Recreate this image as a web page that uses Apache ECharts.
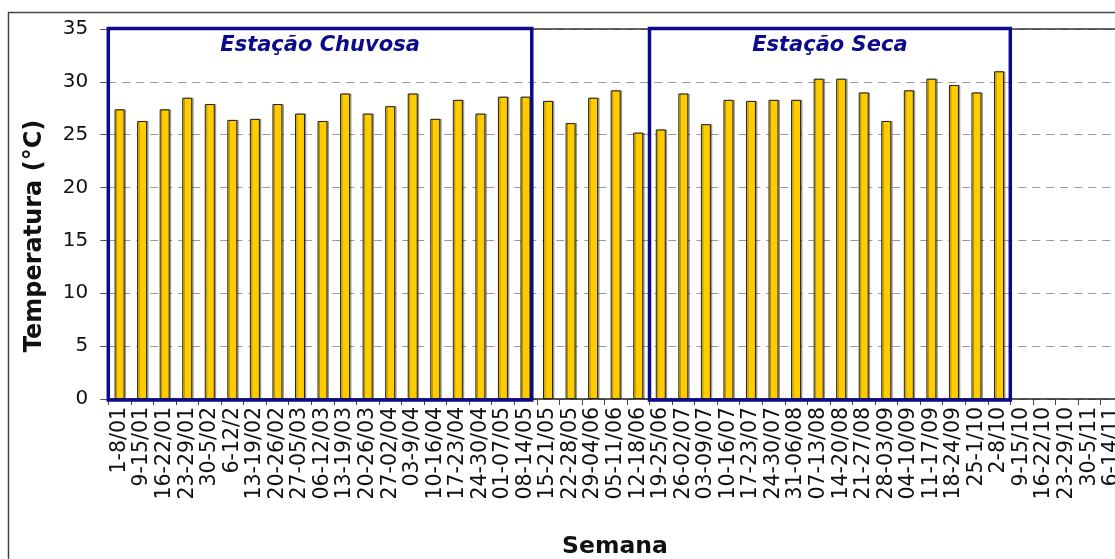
<!DOCTYPE html>
<html>
<head>
<meta charset="utf-8">
<script src="https://cdn.jsdelivr.net/npm/echarts@6/dist/echarts.min.js"></script>
<style>
html,body{margin:0;padding:0;background:#fff;overflow:hidden;width:1115px;height:559px;}
#c{width:1135px;height:559px;}
</style>
</head>
<body>
<div id="c"></div>
<script>
const weeks = ["1-8/01","9-15/01","16-22/01","23-29/01","30-5/02","6-12/2","13-19/02","20-26/02","27-05/03","06-12/03","13-19/03","20-26/03","27-02/04","03-9/04","10-16/04","17-23/04","24-30/04","01-07/05","08-14/05","15-21/05","22-28/05","29-04/06","05-11/06","12-18/06","19-25/06","26-02/07","03-09/07","10-16/07","17-23/07","24-30/07","31-06/08","07-13/08","14-20/08","21-27/08","28-03/09","04-10/09","11-17/09","18-24/09","25-1/10","2-8/10","9-15/10","16-22/10","23-29/10","30-5/11","6-14/11"];
const temperatura = [27.4,26.3,27.4,28.5,27.9,26.4,26.5,27.9,27.0,26.3,28.9,27.0,27.7,28.9,26.5,28.3,27.0,28.6,28.6,28.2,26.1,28.5,29.2,25.2,25.5,28.9,26.0,28.3,28.2,28.3,28.3,30.3,30.3,29.0,26.3,29.2,30.3,29.7,29.0,31.0];
const yTicks = [0,5,10,15,20,25,30,35];
const seasons = [
  {name:"Estação Chuvosa", from:"1-8/01", to:"08-14/05"},
  {name:"Estação Seca", from:"19-25/06", to:"2-8/10"}
];

const chart = echarts.init(document.getElementById('c'), null, {renderer:'canvas'});
const band = 22.55;
const gridLeft = 108.3;
const option = {
  animation:false,
  backgroundColor:'#fff',
  grid:{left:gridLeft, top:29, width: weeks.length*band, bottom:160, containLabel:false},
  xAxis:[{
    type:'category', data:weeks, boundaryGap:true,
    axisLine:{show:true, lineStyle:{color:'#222', width:1.5}},
    axisTick:{show:true, length:6, inside:false, lineStyle:{color:'#444', width:1}},
    axisLabel:{rotate:90, interval:0, margin:8, color:'#111', fontFamily:'DejaVu Sans', fontSize:20.5},
    splitLine:{show:false}
  },{
    type:'category', data:weeks, position:'top',
    axisLine:{show:true, lineStyle:{color:'#333', width:1.5}},
    axisTick:{show:false}, axisLabel:{show:false}, splitLine:{show:false}
  }],
  yAxis:{
    type:'value', min:yTicks[0], max:yTicks[yTicks.length-1], interval:5,
    axisLine:{show:true, lineStyle:{color:'#444'}},
    axisTick:{show:true, length:8, lineStyle:{color:'#555'}},
    axisLabel:{margin:20, color:'#111', fontFamily:'DejaVu Sans', fontSize:20},
    splitLine:{show:true, lineStyle:{color:'#9a9a9a', type:[8,6], width:1}}
  },
  series:[{
    type:'bar', data:temperatura, barWidth:10, xAxisIndex:0,
    itemStyle:{color:'#FFCC00', borderColor:'#222', borderWidth:1,
      shadowColor:'rgba(0,0,0,0.3)', shadowOffsetX:1.5, shadowOffsetY:0, shadowBlur:0}
  }]
};
chart.setOption(option);

const cx = (cat)=>chart.convertToPixel({xAxisIndex:0}, cat);
const cy = (v)=>chart.convertToPixel({yAxisIndex:0}, v);
const yTop = cy(35), yBot = cy(0);
const x1l = cx(seasons[0].from) - band/2;
const x1r = cx(seasons[0].to) + band*0.28;
const x2l = cx(seasons[1].from) - band/2;
const x2r = cx(seasons[1].to) + band/2;
const navy = '#0a0a8a';
const boxes = [[x1l,x1r,seasons[0].name],[x2l,x2r,seasons[1].name]];
const elements = [
  {type:'rect', silent:true, z:0, shape:{x:8.5, y:12.5, width:1300, height:700}, style:{fill:null, stroke:'#444', lineWidth:1.5}}
];
boxes.forEach(b=>{
  elements.push({type:'rect', z:100, shape:{x:b[0], y:yTop-0.5, width:b[1]-b[0], height:yBot-yTop+1.5}, style:{fill:null, stroke:navy, lineWidth:3.5}});
  elements.push({type:'text', z:101, x:(b[0]+b[1])/2, y:yTop+17, style:{text:b[2], fill:navy, font:'italic bold 21px "DejaVu Sans"', align:'center', verticalAlign:'middle'}});
});
elements.push({type:'text', x:35, y:236, rotation:Math.PI/2, style:{text:'Temperatura (°C)', fill:'#111', font:'bold 24px "DejaVu Sans"', align:'center', verticalAlign:'middle'}});
elements.push({type:'text', x:615, y:547, style:{text:'Semana', fill:'#111', font:'bold 23.5px "DejaVu Sans"', align:'center', verticalAlign:'middle'}});
chart.setOption({graphic:{elements:elements}});
</script>
</body>
</html>
